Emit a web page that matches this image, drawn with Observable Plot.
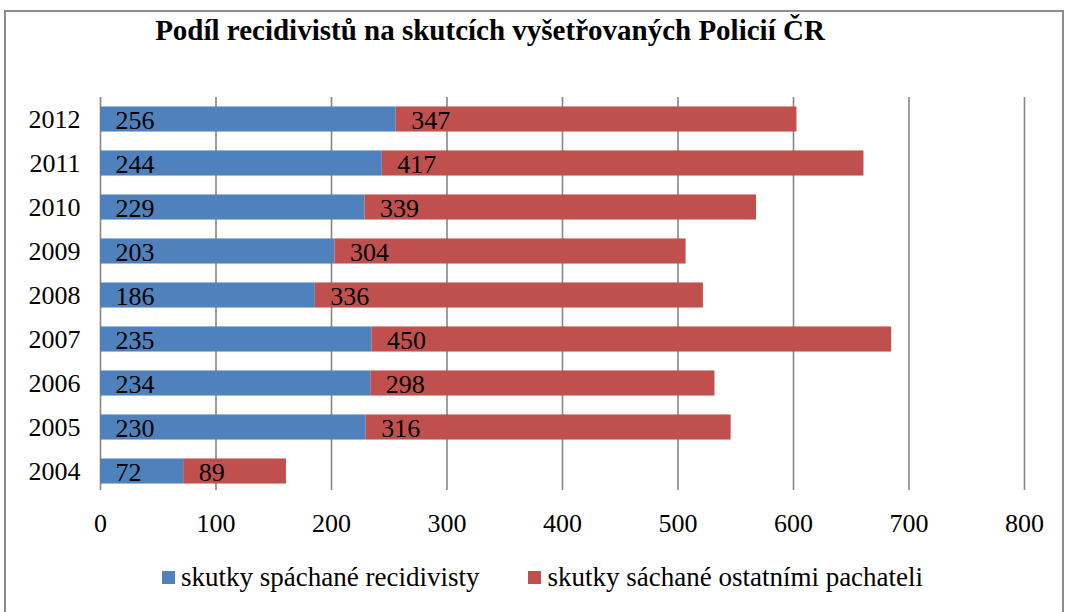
<!DOCTYPE html>
<html>
<head>
<meta charset="utf-8">
<script src="https://cdn.jsdelivr.net/npm/d3@7"></script>
<script src="https://cdn.jsdelivr.net/npm/@observablehq/plot@0.6"></script>
<style>
  html, body { margin: 0; padding: 0; background: #fff; }
  body { width: 1066px; height: 612px; position: relative; overflow: hidden; font-family: "Liberation Serif", "Times New Roman", serif; }
  #frame { position: absolute; left: 4px; top: 10px; width: 1060px; height: 620px; border: 2px solid #8c8c8c; box-sizing: border-box; }
  #title { position: absolute; left: 0; width: 980px; top: 14px; text-align: center; font-weight: bold; font-size: 29px; color: #000; }
  #chart { position: absolute; left: 0; top: 0; }
  #legend { position: absolute; top: 562px; left: 162px; font-size: 27px; color: #000; display: flex; align-items: center; }
  .sw { display: inline-block; width: 13px; height: 13px; margin-right: 6px; }
  .item { display: flex; align-items: center; }
</style>
</head>
<body>
<div id="frame"></div>
<div id="title">Podíl recidivistů na skutcích vyšetřovaných Policií ČR</div>
<div id="chart"></div>
<div id="legend"></div>
<script>
const years = ["2004","2005","2006","2007","2008","2009","2010","2011","2012"];
const recidivists = [72, 230, 234, 235, 186, 203, 229, 244, 256];
const others = [89, 316, 298, 450, 336, 304, 339, 417, 347];
const seriesNames = ["skutky spáchané recidivisty", "skutky sáchané ostatními pachateli"];
const seriesColors = ["#4F81BD", "#C0504D"];
const xTicks = [0, 100, 200, 300, 400, 500, 600, 700, 800];

const rows = [];
years.forEach((y, i) => {
  rows.push({year: y, series: seriesNames[0], value: recidivists[i], start: 0});
  rows.push({year: y, series: seriesNames[1], value: others[i], start: recidivists[i]});
});

const plot = Plot.plot({
  width: 1066,
  height: 560,
  marginTop: 97,
  marginLeft: 100,
  marginRight: 42,
  marginBottom: 67,
  style: {fontFamily: "'Liberation Serif', 'Times New Roman', serif", fontSize: "26px", color: "#000", background: "transparent"},
  x: {domain: [0, 800], ticks: xTicks, label: null},
  y: {domain: years.slice().reverse(), label: null, paddingInner: 0.43, paddingOuter: 0.215, round: false},
  color: {domain: seriesNames, range: seriesColors},
  marks: [
    Plot.ruleX(xTicks, {stroke: "#868686", strokeWidth: 1.6, insetBottom: 3}),
    Plot.barX(rows, Plot.stackX({x: "value", y: "year", fill: "series", order: seriesNames})),
    Plot.text(rows, {x: "start", y: "year", text: d => String(d.value), textAnchor: "start", dx: 15, dy: 1, fill: "#000", fontSize: 26}),
    Plot.axisX({ticks: xTicks, tickSize: 0, tickPadding: 20, fontSize: 26, anchor: "bottom"}),
    Plot.axisY({tickSize: 0, tickPadding: 20, fontSize: 26, anchor: "left"})
  ]
});
document.getElementById("chart").appendChild(plot);

const legend = document.getElementById("legend");
seriesNames.forEach((n, i) => {
  const it = document.createElement("div");
  it.className = "item";
  it.style.marginRight = i === 0 ? "49px" : "0";
  const sw = document.createElement("span");
  sw.className = "sw";
  sw.style.background = seriesColors[i];
  it.appendChild(sw);
  it.appendChild(document.createTextNode(n));
  legend.appendChild(it);
});
</script>
</body>
</html>
